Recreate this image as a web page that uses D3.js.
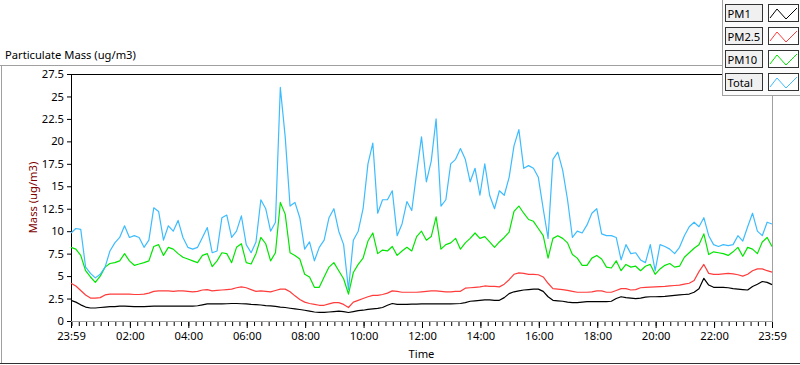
<!DOCTYPE html>
<html>
<head>
<meta charset="utf-8">
<script src="https://cdn.jsdelivr.net/npm/d3@7"></script>
<style>
  body { margin: 0; background: #fff; }
  svg { display: block; font-family: "Noto Sans", sans-serif; }
</style>
</head>
<body>
<div class="chart"></div>
<script>
const width = 800, height = 365;
const plot = { left: 71, right: 772, top: 74, bottom: 321 };
const fontSize = 11.2;

// data: one sample every 10 minutes from 23:59 to 23:59 next day
const startTime = new Date(2024, 0, 1, 23, 59);
const stepMinutes = 10;
const seriesNames = ["PM1", "PM2.5", "PM10", "Total"];
const seriesColors = ["#000000", "#ff3c3c", "#00e600", "#3cbcff"];
const yTicks = [0, 2.5, 5, 7.5, 10, 12.5, 15, 17.5, 20, 22.5, 25, 27.5];
const xTickLabels = ["23:59", "02:00", "04:00", "06:00", "08:00", "10:00", "12:00",
  "14:00", "16:00", "18:00", "20:00", "22:00", "23:59"];

const pm1 = [
  2.3, 2.1, 1.8, 1.55, 1.45, 1.45, 1.5, 1.55, 1.6, 1.6, 1.65, 1.65, 1.62, 1.6, 1.6,
  1.6, 1.62, 1.65, 1.65, 1.65, 1.65, 1.65, 1.65, 1.65, 1.65, 1.65, 1.7, 1.8, 1.9, 1.9,
  1.9, 1.9, 1.92, 1.95, 1.95, 1.92, 1.9, 1.85, 1.82, 1.78, 1.72, 1.68, 1.62, 1.55,
  1.5, 1.42, 1.35, 1.28, 1.2, 1.1, 1.0, 0.95, 0.95, 1.0, 1.05, 1.1, 1.05, 0.95,
  1.05, 1.15, 1.2, 1.3, 1.35, 1.4, 1.5, 1.75, 1.95, 1.85, 1.85, 1.85, 1.88, 1.88, 1.9,
  1.9, 1.9, 1.9, 1.9, 1.9, 1.9, 1.92, 1.95, 2.05, 2.2, 2.25, 2.3, 2.35, 2.35,
  2.3, 2.3, 2.6, 3.05, 3.25, 3.35, 3.45, 3.5, 3.55, 3.55, 3.3, 2.7, 2.3, 2.25, 2.2,
  2.1, 2.05, 2.05, 2.1, 2.15, 2.15, 2.15, 2.15, 2.15, 2.2, 2.5, 2.7, 2.6, 2.55,
  2.5, 2.55, 2.65, 2.7, 2.7, 2.72, 2.75, 2.8, 2.85, 2.9, 2.95, 3.0, 3.2, 3.6, 4.75,
  4.0, 3.75, 3.75, 3.75, 3.7, 3.6, 3.55, 3.5, 3.45, 3.85, 4.1, 4.4, 4.3, 4.05
];
const pm25 = [
  4.2, 3.9, 3.4, 2.9, 2.55, 2.55, 2.6, 2.9, 3.0, 3.0, 3.0, 3.0, 3.0, 2.95, 2.95,
  3.0, 3.1, 3.3, 3.35, 3.35, 3.35, 3.3, 3.35, 3.35, 3.3, 3.25, 3.3, 3.45, 3.5, 3.35,
  3.4, 3.45, 3.5, 3.55, 3.7, 3.8, 3.7, 3.5, 3.3, 3.35, 3.3, 3.25, 3.4, 3.55,
  3.55, 3.25, 2.8, 2.4, 2.1, 1.95, 1.85, 1.75, 1.75, 1.9, 2.05, 2.05, 1.85, 1.5,
  2.1, 2.3, 2.5, 2.7, 2.85, 2.85, 2.95, 3.1, 3.35, 3.3, 3.2, 3.2, 3.2, 3.2, 3.25,
  3.3, 3.35, 3.35, 3.3, 3.25, 3.25, 3.3, 3.3, 3.65, 3.7, 3.75, 3.8, 3.9, 3.85,
  3.85, 3.8, 4.1, 4.6, 5.2, 5.35, 5.3, 5.2, 5.2, 5.15, 4.9, 4.2, 3.6, 3.55, 3.5,
  3.4, 3.3, 3.2, 3.2, 3.2, 3.25, 3.35, 3.35, 3.2, 3.2, 3.4, 3.6, 3.6, 3.45,
  3.5, 3.7, 3.75, 3.78, 3.8, 3.82, 3.85, 3.9, 3.95, 4.0, 4.1, 4.2, 4.5, 5.5, 6.3,
  5.3, 5.2, 5.2, 5.25, 5.3, 5.25, 5.15, 5.0, 5.2, 5.6, 5.8, 5.8, 5.6, 5.45
];
const pm10 = [
  8.2, 8.0, 7.3, 5.6, 4.9, 4.3, 5.0, 6.0, 6.4, 6.5, 6.7, 7.5, 6.7, 6.2, 6.35,
  6.5, 6.7, 8.3, 8.5, 7.3, 8.2, 8.0, 7.5, 7.1, 6.9, 6.7, 6.5, 7.3, 7.5, 6.05,
  6.7, 7.6, 7.5, 6.5, 8.2, 8.6, 6.5, 6.35, 7.5, 9.3, 8.6, 6.7, 7.6, 13.2,
  11.9, 7.6, 7.3, 6.9, 5.2, 4.9, 3.75, 3.75, 4.9, 6.0, 6.5, 5.6, 4.7, 3.0,
  5.4, 6.3, 7.0, 8.9, 9.8, 7.5, 7.9, 7.8, 8.3, 7.3, 7.8, 8.2, 7.8, 9.4, 10.0,
  9.0, 9.4, 11.6, 8.0, 8.5, 8.7, 9.2, 8.0, 8.7, 9.2, 9.8, 9.2, 9.4, 8.8,
  8.2, 8.8, 9.3, 9.9, 12.2, 12.8, 12.0, 11.3, 11.1, 10.3, 9.5, 7.0, 9.2, 9.5, 9.2,
  8.7, 7.4, 7.0, 6.2, 6.2, 7.0, 7.3, 6.9, 6.0, 5.9, 6.7, 5.6, 6.3, 6.0,
  6.1, 5.6, 6.1, 6.3, 5.2, 5.8, 6.2, 6.4, 6.0, 6.1, 7.1, 7.6, 8.1, 8.5, 9.7,
  7.4, 7.7, 7.6, 7.5, 7.3, 7.7, 8.2, 7.2, 8.2, 8.0, 7.5, 8.8, 9.3, 8.3
];
const total = [
  9.8, 10.3, 10.2, 6.0, 5.3, 4.8, 5.2, 6.0, 7.8, 8.7, 9.3, 10.6, 9.3, 9.5, 9.3,
  8.2, 9.0, 12.6, 12.2, 9.0, 10.6, 10.0, 11.2, 9.3, 8.2, 8.0, 8.2, 9.3, 10.4, 7.6,
  7.8, 11.5, 11.8, 9.3, 10.0, 11.7, 8.5, 7.6, 8.8, 13.5, 12.5, 10.0, 11.0, 26.0,
  20.5, 12.8, 13.2, 11.5, 8.0, 8.8, 6.7, 8.2, 9.0, 11.5, 12.5, 10.0, 8.5, 3.5,
  9.0, 10.0, 12.5, 17.5, 19.8, 12.0, 13.5, 13.5, 14.5, 9.5, 10.8, 13.3, 12.3, 16.5, 20.5,
  15.5, 17.8, 22.5, 12.8, 13.5, 17.5, 18.0, 19.2, 18.0, 15.5, 17.0, 14.0, 17.5, 14.0,
  12.5, 14.5, 14.0, 16.0, 19.5, 21.3, 17.0, 17.3, 17.0, 16.0, 12.5, 9.2, 18.0, 18.8, 16.8,
  13.5, 9.3, 10.0, 9.8, 10.7, 12.0, 12.5, 9.7, 9.5, 9.5, 9.3, 6.8, 8.5, 7.5,
  7.6, 6.8, 6.5, 8.5, 5.6, 8.5, 8.3, 8.0, 7.5, 8.2, 9.5, 10.5, 11.0, 10.5, 11.5,
  9.5, 8.5, 8.3, 8.5, 8.4, 8.5, 9.5, 8.9, 10.5, 12.0, 10.0, 9.5, 11.0, 10.8
];
const seriesValues = [pm1, pm25, pm10, total];

const endTime = d3.timeHour.offset(startTime, 24);
const x = d3.scaleTime().domain([startTime, endTime]).range([plot.left, plot.right]);
const y = d3.scaleLinear().domain([0, 27.5]).range([plot.bottom, plot.top]);

const majorTicks = [startTime]
  .concat(d3.range(2, 24, 2).map(h => new Date(2024, 0, 2, h, 0)))
  .concat([endTime]);
const minorTicks = d3.timeMinute.every(15).range(startTime, endTime);

const svg = d3.select(".chart").append("svg")
  .attr("width", width)
  .attr("height", height);

// outer panel
svg.append("line").attr("x1", 0).attr("x2", 722).attr("y1", 65.5).attr("y2", 65.5)
  .attr("stroke", "#a0a0a0");
svg.append("line").attr("x1", 1.5).attr("x2", 1.5).attr("y1", 65).attr("y2", 364)
  .attr("stroke", "#a0a0a0");
svg.append("line").attr("x1", 0).attr("x2", width).attr("y1", 363.5).attr("y2", 363.5)
  .attr("stroke", "#303030");

svg.append("text")
  .attr("x", 5)
  .attr("y", 59)
  .attr("font-size", fontSize)
  .attr("fill", "#000")
  .text("Particulate Mass (ug/m3)");

// plot frame
svg.append("line").attr("x1", plot.left).attr("x2", 722).attr("y1", plot.top + 0.5).attr("y2", plot.top + 0.5)
  .attr("stroke", "#000");
svg.append("line").attr("x1", plot.left + 0.5).attr("x2", plot.left + 0.5).attr("y1", plot.top).attr("y2", plot.bottom + 1)
  .attr("stroke", "#000");
svg.append("line").attr("x1", plot.left).attr("x2", plot.right + 1).attr("y1", plot.bottom + 0.5).attr("y2", plot.bottom + 0.5)
  .attr("stroke", "#a0a0a0");
svg.append("line").attr("x1", plot.right + 0.5).attr("x2", plot.right + 0.5).attr("y1", 95).attr("y2", plot.bottom + 1)
  .attr("stroke", "#a0a0a0");

// y axis
const yAxis = svg.append("g")
  .attr("transform", `translate(${plot.left},0)`)
  .call(d3.axisLeft(y).tickValues(yTicks).tickSize(4).tickPadding(3)
    .tickFormat(d => d % 1 ? d.toFixed(1) : String(d)));
yAxis.select(".domain").remove();
yAxis.selectAll("text").attr("font-size", fontSize).attr("font-family", "Noto Sans").attr("fill", "#000");

// x axis, minor then major ticks
const xMinor = svg.append("g")
  .attr("transform", `translate(0,${plot.bottom + 1})`)
  .call(d3.axisBottom(x).tickValues(minorTicks).tickSize(4).tickFormat(""));
xMinor.select(".domain").remove();

const xAxis = svg.append("g")
  .attr("transform", `translate(0,${plot.bottom + 1})`)
  .call(d3.axisBottom(x).tickValues(majorTicks).tickSize(6).tickPadding(4)
    .tickFormat((d, i) => xTickLabels[i]));
xAxis.select(".domain").remove();
xAxis.selectAll("text").attr("font-size", fontSize).attr("font-family", "Noto Sans").attr("fill", "#000");

svg.append("text")
  .attr("x", (plot.left + plot.right) / 2)
  .attr("y", 358)
  .attr("text-anchor", "middle")
  .attr("font-size", fontSize)
  .attr("fill", "#000")
  .text("Time");

svg.append("text")
  .attr("transform", `translate(37,${(plot.top + plot.bottom) / 2}) rotate(-90)`)
  .attr("text-anchor", "middle")
  .attr("font-size", fontSize)
  .attr("fill", "#800000")
  .text("Mass (ug/m3)");

// lines
const line = d3.line()
  .x((d, i) => x(d3.timeMinute.offset(startTime, i * stepMinutes)))
  .y(d => y(d));

seriesValues.forEach((vals, k) => {
  svg.append("path")
    .datum(vals)
    .attr("d", line)
    .attr("fill", "none")
    .attr("stroke", seriesColors[k])
    .attr("stroke-width", 1.2)
    .attr("stroke-linejoin", "round");
});

// legend
const legend = svg.append("g");
legend.append("rect")
  .attr("x", 722).attr("y", -1).attr("width", 80).attr("height", 96)
  .attr("fill", "#fbfbfb");
legend.append("line").attr("x1", 722.5).attr("x2", 722.5).attr("y1", 0).attr("y2", 95)
  .attr("stroke", "#a0a0a0");
legend.append("line").attr("x1", 722).attr("x2", width).attr("y1", 95.5).attr("y2", 95.5)
  .attr("stroke", "#a0a0a0");

const zig = d3.line();
seriesNames.forEach((name, k) => {
  const top = 4 + k * 23;
  legend.append("rect")
    .attr("x", 725.5).attr("y", top + 0.5).attr("width", 37).attr("height", 17)
    .attr("fill", "#f0f0f0").attr("stroke", "#333");
  legend.append("text")
    .attr("x", 727.5).attr("y", top + 13.5)
    .attr("font-size", fontSize)
    .attr("fill", "#000")
    .text(name);
  legend.append("rect")
    .attr("x", 768.5).attr("y", top + 0.5).attr("width", 30).attr("height", 17)
    .attr("fill", "#fff").attr("stroke", "#333");
  legend.append("path")
    .attr("d", zig([[770, top + 14], [777, top + 5], [786, top + 15], [797, top + 4]]))
    .attr("fill", "none")
    .attr("stroke", seriesColors[k])
    .attr("stroke-width", 1);
});
</script>
</body>
</html>
